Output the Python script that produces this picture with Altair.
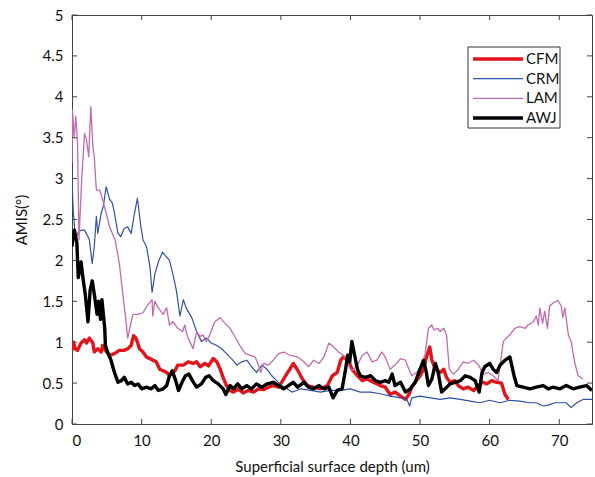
import altair as alt
import pandas as pd

series = ["CFM", "CRM", "LAM", "AWJ"]
colors = ["#e3131b", "#2f52a6", "#c46aaf", "#000000"]
widths = [3.4, 1.2, 1.3, 3.4]

cfm = [(0,0.90),(0.2,1.00),(0.5,0.92),(0.8,0.90),(1.3,0.99),(1.8,1.03),(2.1,0.99),(2.5,1.05),(3.0,0.99),(3.2,0.88),
       (3.7,0.92),(4.2,0.88),(4.4,0.96),(4.8,0.90),(5.4,0.84),(6.1,0.86),(6.8,0.90),(7.5,0.90),(8.0,0.92),(8.5,0.96),
       (8.85,1.08),(9.2,1.05),(9.7,0.92),(10.2,0.88),(10.7,0.82),(11.4,0.79),(12.1,0.76),(12.6,0.67),(13.1,0.65),(13.6,0.63),
       (14.0,0.59),(14.8,0.65),(15.2,0.72),(16.0,0.72),(16.7,0.76),(17.4,0.74),(17.9,0.76),(18.4,0.70),(19.1,0.74),(19.6,0.71),
       (20.3,0.80),(20.8,0.76),(21.3,0.67),(21.7,0.57),(22.2,0.47),(22.7,0.41),(23.2,0.39),(23.9,0.43),(24.6,0.38),(25.3,0.41),
       (26.1,0.39),(26.8,0.43),(27.5,0.42),(28.2,0.45),(28.9,0.47),(29.7,0.45),(30.4,0.55),(30.9,0.62),(31.3,0.67),(31.8,0.74),
       (32.4,0.66),(33.1,0.55),(33.8,0.47),(34.7,0.45),(35.7,0.43),(36.7,0.47),(37.4,0.59),(38.1,0.63),(38.6,0.78),(39.0,0.82),
       (39.8,0.76),(40.2,0.67),(41.0,0.59),(41.7,0.53),(42.4,0.55),(43.3,0.51),(44.3,0.47),(45.0,0.45),(45.7,0.36),(46.4,0.39),
       (47.2,0.34),(47.9,0.30),(48.4,0.36),(48.8,0.45),(49.3,0.51),(50.0,0.59),(50.5,0.67),(51.0,0.84),(51.4,0.94),(51.7,0.78),
       (52.2,0.67),(52.9,0.63),(53.4,0.67),(53.8,0.57),(54.3,0.51),(55.0,0.53),(55.5,0.47),(56.2,0.43),(56.9,0.45),(57.7,0.41),
       (58.4,0.47),(59.0,0.51),(59.6,0.49),(60.3,0.53),(61.0,0.51),(61.7,0.50),(62.2,0.36),(62.7,0.30)]

crm = [(0,2.98),(0.2,2.58),(0.5,2.25),(0.8,2.33),(1.3,2.37),(1.8,2.37),(2.3,2.29),(2.5,2.25),(2.9,1.96),(3.2,2.17),
       (3.5,2.54),(3.7,2.33),(4.2,2.58),(4.5,2.66),(4.9,2.90),(5.4,2.75),(5.8,2.70),(6.1,2.58),(6.6,2.33),(7.0,2.29),
       (7.5,2.39),(8.0,2.41),(8.5,2.33),(8.9,2.54),(9.4,2.76),(9.9,2.41),(10.2,2.25),(10.7,2.17),(11.2,1.92),(11.5,1.61),
       (11.9,1.83),(12.4,1.98),(13.0,2.10),(13.6,2.04),(14.0,2.00),(14.5,1.83),(15.0,1.63),(15.5,1.32),(16.0,1.52),(16.4,1.42),
       (17.2,1.30),(17.9,1.13),(18.6,1.01),(19.3,1.05),(20.0,0.99),(20.8,0.96),(21.5,0.92),(22.2,0.86),(22.9,0.80),(23.7,0.72),
       (24.4,0.76),(25.1,0.78),(25.8,0.70),(26.5,0.63),(27.3,0.72),(28.0,0.67),(28.7,0.59),(29.4,0.53),(30.1,0.47),(30.9,0.43),
       (31.6,0.39),(32.3,0.41),(32.8,0.43),(34.3,0.41),(35.7,0.39),(37.1,0.41),(38.6,0.41),(40.0,0.43),(41.4,0.39),(42.9,0.39),
       (44.3,0.37),(45.7,0.34),(47.2,0.32),(48.1,0.30),(48.5,0.22),(48.8,0.32),(50.0,0.34),(51.5,0.32),(52.9,0.30),(54.3,0.32),
       (55.8,0.30),(57.2,0.28),(58.6,0.26),(60.0,0.29),(61.5,0.26),(62.9,0.29),(64.3,0.28),(65.8,0.26),(66.7,0.26),(67.7,0.22),
       (68.4,0.23),(69.4,0.26),(70.3,0.26),(71.0,0.26),(71.7,0.20),(72.5,0.26),(73.4,0.30),(74.4,0.30),(74.7,0.30)]

lam = [(0,3.19),(0.07,3.84),(0.3,3.50),(0.55,3.76),(0.8,3.43),(1.0,2.25),(1.4,3.00),(1.8,3.55),(2.1,3.47),(2.4,3.27),
       (2.7,3.88),(3.0,3.39),(3.2,3.27),(3.5,2.86),(4.0,2.86),(4.4,2.74),(4.9,2.58),(5.4,2.41),(5.8,2.33),(6.2,2.25),
       (6.8,1.96),(7.3,1.59),(7.7,1.30),(8.0,1.05),(8.4,1.21),(8.75,1.34),(9.5,1.34),(10.2,1.36),(10.9,1.46),(11.5,1.52),
       (11.6,1.32),(11.9,1.50),(12.4,1.42),(13.1,1.34),(13.6,1.42),(14.0,1.21),(14.5,1.25),(15.2,1.17),(15.9,1.13),(16.2,1.21),
       (16.5,1.09),(16.9,1.01),(17.4,0.92),(17.9,1.13),(18.4,1.07),(18.8,1.09),(19.3,1.01),(19.8,1.09),(20.5,1.25),(21.25,1.30),
       (22.0,1.23),(22.7,1.17),(23.4,1.07),(24.1,0.96),(24.9,0.86),(25.6,0.84),(26.3,0.82),(26.8,0.72),(27.1,0.63),(27.5,0.74),
       (28.2,0.72),(28.9,0.78),(29.7,0.86),(30.4,0.88),(31.3,0.84),(32.4,0.82),(33.3,0.76),(34.0,0.70),(34.7,0.78),(35.5,0.74),
       (36.2,0.82),(36.9,0.99),(37.6,0.94),(38.3,0.88),(39.0,0.84),(39.8,0.70),(40.2,0.65),(41.0,0.72),(41.7,0.84),(42.4,0.88),
       (43.1,0.76),(43.8,0.78),(44.5,0.88),(45.0,0.82),(45.7,0.67),(46.4,0.72),(47.2,0.80),(47.9,0.78),(48.4,0.67),(48.8,0.59),
       (49.5,0.63),(50.3,0.72),(50.7,0.84),(51.2,1.17),(51.7,1.21),(52.0,1.15),(52.5,1.17),(52.9,1.13),(53.4,1.17),(53.8,1.09),
       (54.2,0.67),(54.8,0.61),(55.5,0.67),(56.2,0.76),(56.9,0.74),(57.7,0.78),(58.4,0.72),(59.1,0.61),(59.8,0.63),(60.5,0.59),
       (61.2,0.53),(61.96,1.01),(62.4,1.05),(62.9,1.09),(63.6,1.17),(64.3,1.19),(65.1,1.17),(65.5,1.21),(66.3,1.25),(66.7,1.32),
       (67.0,1.21),(67.2,1.42),(67.6,1.23),(67.9,1.38),(68.3,1.17),(68.6,1.44),(69.1,1.48),(69.8,1.51),(70.3,1.44),(70.5,1.30),
       (70.8,1.42),(71.3,1.09),(71.7,1.01),(72.2,0.76),(72.7,0.59),(73.4,0.55)]

awj = [(0,2.17),(0.2,2.33),(0.35,2.37),(0.7,2.21),(0.9,1.79),(1.3,1.98),(1.6,1.77),(1.9,1.59),(2.3,1.25),(2.6,1.63),
       (2.9,1.75),(3.2,1.59),(3.6,1.34),(3.8,1.50),(4.1,1.28),(4.3,1.52),(4.7,1.17),(4.8,0.96),(5.1,0.88),(5.6,0.78),
       (6.1,0.63),(6.6,0.51),(7.1,0.53),(7.5,0.57),(8.0,0.49),(8.5,0.51),(9.0,0.47),(9.5,0.49),(10.0,0.43),(10.7,0.45),
       (11.4,0.43),(11.9,0.47),(12.4,0.41),(13.1,0.43),(13.6,0.47),(14.0,0.59),(14.4,0.65),(14.9,0.53),(15.3,0.41),(15.8,0.51),
       (16.3,0.59),(16.8,0.61),(17.3,0.53),(17.9,0.45),(18.6,0.49),(19.2,0.57),(19.7,0.59),(20.3,0.53),(21.0,0.49),(21.7,0.43),
       (22.1,0.36),(22.7,0.47),(23.2,0.43),(23.8,0.49),(24.4,0.43),(25.1,0.47),(25.8,0.43),(26.5,0.49),(27.3,0.45),(28.0,0.49),
       (28.9,0.51),(29.7,0.47),(30.4,0.43),(31.1,0.47),(31.8,0.51),(32.4,0.45),(33.3,0.51),(34.0,0.45),(34.7,0.43),(35.5,0.47),
       (36.2,0.43),(36.9,0.45),(37.5,0.32),(38.1,0.41),(38.8,0.43),(39.3,0.67),(39.6,0.84),(39.9,0.76),(40.2,1.01),(40.6,0.84),
       (41.0,0.67),(41.4,0.59),(42.1,0.57),(42.9,0.59),(43.6,0.53),(44.3,0.51),(45.0,0.53),(45.5,0.51),(46.0,0.61),(46.4,0.47),
       (47.2,0.51),(47.9,0.39),(48.6,0.43),(49.3,0.51),(50.0,0.67),(50.5,0.78),(50.9,0.63),(51.2,0.47),(51.7,0.55),(52.2,0.74),
       (52.6,0.63),(53.1,0.39),(53.6,0.43),(54.3,0.49),(55.0,0.51),(55.8,0.53),(56.5,0.59),(57.2,0.57),(57.9,0.53),(58.5,0.39),
       (58.9,0.63),(59.3,0.70),(60.0,0.74),(60.5,0.67),(61.0,0.63),(61.5,0.72),(62.2,0.78),(62.9,0.82),(63.5,0.59),(63.9,0.47),
       (64.8,0.45),(65.8,0.43),(66.7,0.45),(67.7,0.47),(68.4,0.43),(69.1,0.45),(70.1,0.43),(71.0,0.47),(72.0,0.43),(72.9,0.45),
       (73.9,0.47),(74.7,0.41)]

x_ticks = [0, 10, 20, 30, 40, 50, 60, 70]
y_ticks = [0, 0.5, 1, 1.5, 2, 2.5, 3, 3.5, 4, 4.5, 5]

W, H = 520, 409
FONT = "Lato"
XTITLE = "Superficial surface depth (um)"
xscale = alt.Scale(domain=[0, 74.7], nice=False, zero=False)
yscale = alt.Scale(domain=[0, 5], nice=False)
cscale = alt.Scale(domain=series, range=colors)
x_axis = alt.Axis(values=x_ticks, title=XTITLE, ticks=False,
                  labelPadding=9, titlePadding=11, grid=False)
y_axis = alt.Axis(values=y_ticks, format="~g", title="AMIS(°)", ticks=False,
                  labelPadding=9, titlePadding=13, grid=False)

layers = []
for name, pts, w in zip(series, [cfm, crm, lam, awj], widths):
    d = pd.DataFrame({"x": [p[0] for p in pts], "y": [p[1] for p in pts]})
    d["series"] = name
    d["i"] = range(len(d))
    first = len(layers) == 0
    layers.append(
        alt.Chart(d).mark_line(clip=True, strokeJoin="round", strokeWidth=w).encode(
            x=alt.X("x:Q", scale=xscale, axis=x_axis, title=XTITLE),
            y=alt.Y("y:Q", scale=yscale, axis=y_axis if first else None),
            color=alt.Color("series:N", scale=cscale, legend=None),
            order="i:Q",
        )
    )

# inward tick marks on all four sides
xt = pd.DataFrame({"t": x_ticks})
yt = pd.DataFrame({"t": y_ticks})
tick_color = "#444444"
xb = alt.Chart(xt).mark_rule(color=tick_color, strokeWidth=1).encode(
    x=alt.X("t:Q", scale=xscale, axis=x_axis, title=XTITLE),
    y=alt.value(H), y2=alt.value(H - 5))
xtop = alt.Chart(xt).mark_rule(color=tick_color, strokeWidth=1).encode(
    x=alt.X("t:Q", scale=xscale, axis=x_axis, title=XTITLE),
    y=alt.value(0), y2=alt.value(5))
yl = alt.Chart(yt).mark_rule(color=tick_color, strokeWidth=1).encode(
    y=alt.Y("t:Q", scale=yscale, axis=None), x=alt.value(0), x2=alt.value(5))
yr = alt.Chart(yt).mark_rule(color=tick_color, strokeWidth=1).encode(
    y=alt.Y("t:Q", scale=yscale, axis=None), x=alt.value(W), x2=alt.value(W - 5))

# legend box
leg = pd.DataFrame({"series": series, "w": widths})
leg_y = alt.Y("series:N", scale=alt.Scale(type="point", domain=series, range=[44, 103], padding=0), axis=None)
box = alt.Chart(pd.DataFrame({"k": [0]})).mark_rect(fill="white", stroke="#333333", strokeWidth=1).encode(
    x=alt.value(396), x2=alt.value(488), y=alt.value(32), y2=alt.value(113))
leg_lines = alt.Chart(leg).mark_rule().encode(
    y=leg_y, x=alt.value(401), x2=alt.value(451),
    color=alt.Color("series:N", scale=cscale, legend=None),
    strokeWidth=alt.StrokeWidth("w:Q", scale=None))
leg_text = alt.Chart(leg).mark_text(align="left", baseline="middle", font=FONT, fontSize=15, color="#111111").encode(
    y=leg_y, x=alt.value(454), text="series:N")

chart = alt.layer(*layers, xb, xtop, yl, yr, box, leg_lines, leg_text).resolve_scale(
    y="independent"
).properties(
    width=W, height=H,
    autosize=alt.AutoSizeParams(type="none"),
    padding={"left": 72, "top": 15, "right": 3, "bottom": 53},
    background="white",
).configure_view(stroke="#444444", strokeWidth=1).configure_axis(
    labelFont=FONT, titleFont=FONT, labelFontSize=15, titleFontSize=15,
    labelColor="#111111", titleColor="#111111", titleFontWeight="normal",
    domainColor="#444444",
)

chart.save("out.html", embed_options={"renderer": "svg", "actions": False})
